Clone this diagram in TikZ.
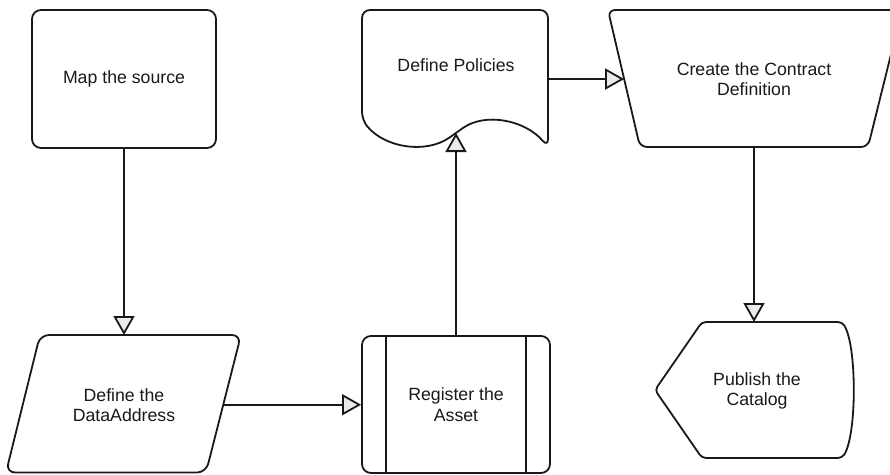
\documentclass[tikz,border=0pt]{standalone}
\usepackage{fontspec}
\setmainfont{Liberation Sans}
\usetikzlibrary{arrows.meta,calc}
\begin{document}
\begin{tikzpicture}[x=1pt,y=-1pt,
  shapeline/.style={draw=black!90, line width=1.8pt, line join=round},
  lbl/.style={text=black!90, align=center, inner sep=0pt,
    font=\fontsize{17.7}{20.5}\selectfont},
  roundbox/.style={shapeline, lbl, rounded corners=9pt},
  conn/.style={draw=black!90, line width=1.8pt,
    -{Triangle[length=19pt,width=21pt,fill=black!8,line join=miter]}}]
\clip (0,0) rectangle (890,474);

% process box
\node[roundbox, minimum width=184pt, minimum height=138pt] (map) at (124,79) {Map the source};

% data (parallelogram)
\draw[shapeline, rounded corners=9pt] (40,335) -- (241,335) -- (206,472.5) -- (6,472.5) -- cycle;
\node[lbl] (da) at (124,405) {Define the\\DataAddress};
\coordinate (da-n) at (124,335);
\coordinate (da-e) at ($(241,335)!0.507!(206,472.5)$);

% predefined process
\node[roundbox, minimum width=188pt, minimum height=137pt] (reg) at (456,404.5) {Register the\\Asset};
\draw[shapeline] ([xshift=25pt]reg.north west) -- ([xshift=25pt]reg.south west);
\draw[shapeline] ([xshift=-25pt]reg.north east) -- ([xshift=-25pt]reg.south east);

% document
\draw[shapeline, rounded corners=8pt] (455,10) -- (548,10) -- (548,147)
  .. controls (525,120) and (485,112) .. (456,133)
  .. controls (426,154) and (385,148) .. (362,120) -- (362,10) -- cycle;
\node[lbl] (pol) at (456,65) {Define Policies};
\coordinate (pol-s) at (456,133);
\coordinate (pol-e) at (548,79);

% manual operation (trapezoid)
\draw[shapeline, rounded corners=7pt] (608,10) -- (902,10) -- (868,147) -- (640,147) -- cycle;
\node[lbl] (con) at (754,79) {Create the Contract\\Definition};
\coordinate (con-w) at ($(608,10)!0.504!(640,147)$);
\coordinate (con-s) at (754,147);

% display
\draw[shapeline, rounded corners=4pt] (655,390) -- (702,322) -- (842,322)
  .. controls (857,345) and (857,435) .. (842,458) -- (702,458) -- cycle;
\node[lbl] (cat) at (757,391) {Publish the\\Catalog};
\coordinate (cat-n) at (754,322);

% connectors
\draw[conn] (map.south) -- (da-n);
\draw[conn] (da-e) -- (da-e -| reg.west);
\draw[conn] (reg.north) -- (pol-s);
\draw[conn] (pol-e) -- (con-w);
\draw[conn] (con-s) -- (cat-n);
\end{tikzpicture}
\end{document}
